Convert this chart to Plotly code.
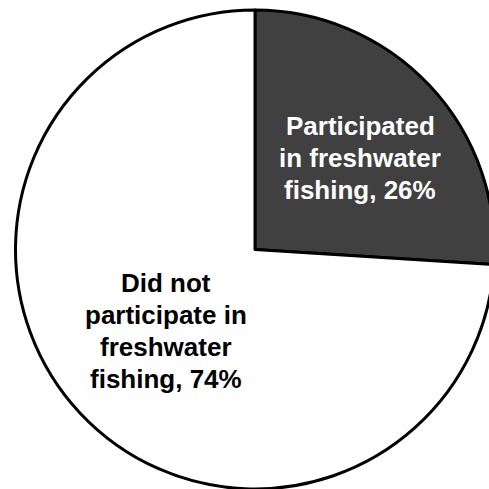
import plotly.graph_objects as go

# Share of people who went freshwater fishing
labels = ["Participated in freshwater fishing", "Did not participate in freshwater fishing"]
values = [26, 74]
colors = ["#404040", "#ffffff"]
label_lines = [
    ["Participated", "in freshwater", "fishing, {v}%"],
    ["Did not", "participate in", "freshwater", "fishing, {v}%"],
]

W, H = 500, 489

fig = go.Figure(
    go.Pie(
        labels=labels,
        values=values,
        sort=False,
        direction="clockwise",
        rotation=0,
        marker=dict(colors=colors, line=dict(color="#000000", width=3)),
        textinfo="none",
        hoverinfo="label+percent",
        showlegend=False,
        domain=dict(x=[15.5 / W, 494.5 / W], y=[0.0, 479 / H]),
    )
)

# Slice labels, one annotation per line so the line pitch can be set
label_center_x = [360, 166]
label_first_line_y = [126, 283]
line_pitch = 32
label_colors = ["#ffffff", "#000000"]
for lines, v, cx, y0, c in zip(label_lines, values, label_center_x, label_first_line_y, label_colors):
    for i, line in enumerate(lines):
        fig.add_annotation(
            x=cx / W,
            y=1 - (y0 + i * line_pitch) / H,
            xref="paper",
            yref="paper",
            xanchor="center",
            yanchor="middle",
            text=line.format(v=v),
            showarrow=False,
            font=dict(family="Arial, Liberation Sans, sans-serif", size=26, color=c, weight="bold"),
        )

fig.update_layout(
    width=W,
    height=H,
    margin=dict(l=0, r=0, t=0, b=0),
    paper_bgcolor="#ffffff",
    plot_bgcolor="#ffffff",
)

fig.write_html(
    "out.html",
    post_script="document.documentElement.style.overflow='hidden';document.body.style.overflow='hidden';document.body.style.margin='0';",
)
